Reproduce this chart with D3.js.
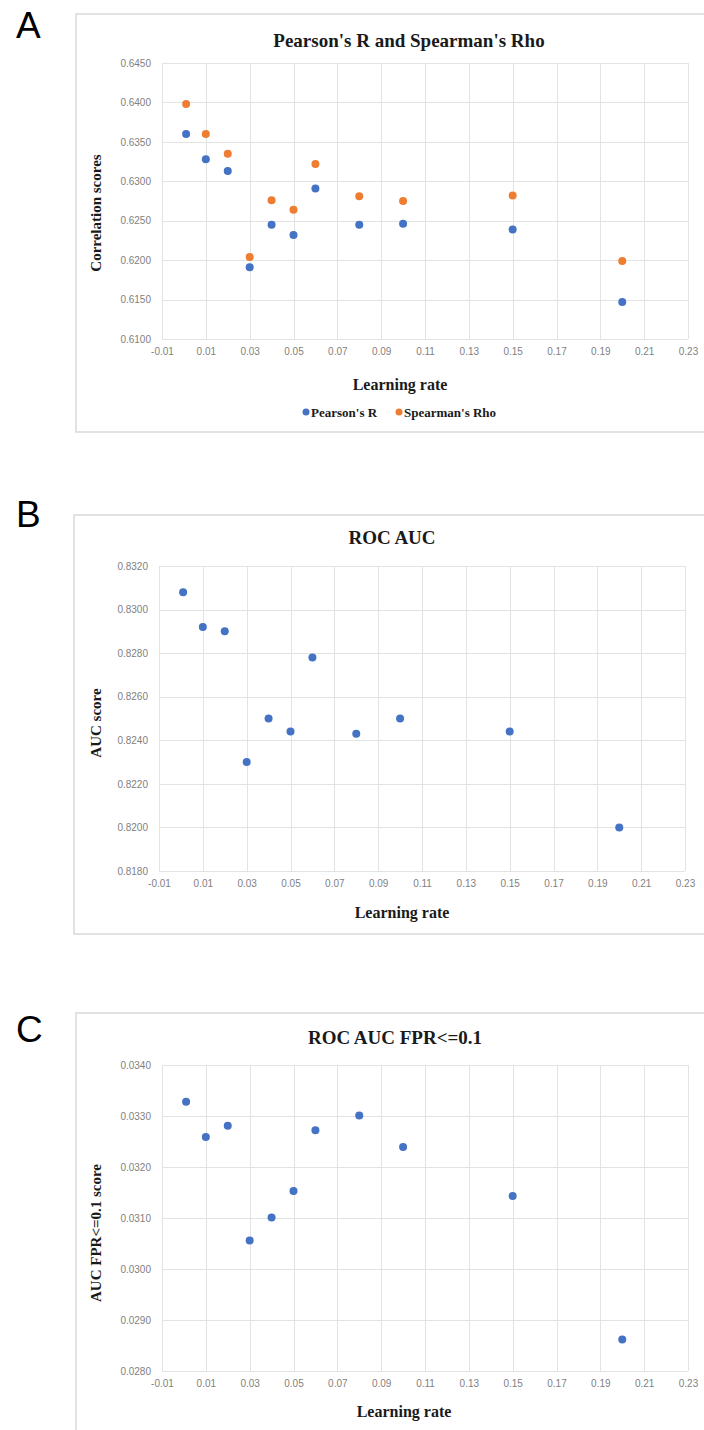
<!DOCTYPE html>
<html>
<head>
<meta charset="utf-8">
<script src="https://cdn.jsdelivr.net/npm/d3@7"></script>
<style>
  body { margin: 0; background: #fff; }
  .tick text { font-family: "Liberation Sans", Arial, sans-serif; font-size: 10px; fill: #7f7f7f; }
  .ttl { font-family: "Liberation Serif", "Times New Roman", serif; font-weight: bold; fill: #1a1a1a; }
  .letter { font-family: "Liberation Sans", Arial, sans-serif; font-size: 37px; fill: #000; }
</style>
</head>
<body>
<svg id="fig" width="704" height="1430"></svg>
<script>
// learning rates (x)
var learningRates = [0.001, 0.01, 0.02, 0.03, 0.04, 0.05, 0.06, 0.08, 0.10, 0.15, 0.20];
var xTicks = [-0.01, 0.01, 0.03, 0.05, 0.07, 0.09, 0.11, 0.13, 0.15, 0.17, 0.19, 0.21, 0.23];

// panel A
var pearsonR   = [0.6360, 0.6328, 0.6313, 0.6191, 0.6245, 0.6232, 0.6291, 0.6245, 0.6246, 0.6239, 0.6147];
var spearmanRho = [0.6398, 0.6360, 0.6335, 0.6204, 0.6276, 0.6264, 0.6322, 0.6281, 0.6275, 0.6282, 0.6199];
var yTicksA = [0.6100, 0.6150, 0.6200, 0.6250, 0.6300, 0.6350, 0.6400, 0.6450];

// panel B
var rocAuc = [0.8308, 0.8292, 0.8290, 0.8230, 0.8250, 0.8244, 0.8278, 0.8243, 0.8250, 0.8244, 0.8200];
var yTicksB = [0.8180, 0.8200, 0.8220, 0.8240, 0.8260, 0.8280, 0.8300, 0.8320];

// panel C
var rocAucFpr = [0.03328, 0.03259, 0.03281, 0.03056, 0.03101, 0.03153, 0.03272, 0.03301, 0.03239, 0.03143, 0.02862];
var yTicksC = [0.0280, 0.0290, 0.0300, 0.0310, 0.0320, 0.0330, 0.0340];

var blue = "#4472c4";
var orange = "#ed7d31";
var gridColor = "#e3e3e3";

// plain hyphen for negatives, like the spreadsheet
var fmt = d3.formatLocale({decimal: ".", thousands: ",", grouping: [3], currency: ["", ""], minus: "-"}).format;

var svg = d3.select("#fig");

function drawPanel(p) {
    var g = svg.append("g");

    g.append("rect")
        .attr("x", p.frame[0]).attr("y", p.frame[1])
        .attr("width", 720 - p.frame[0]).attr("height", p.frame[2] - p.frame[1])
        .attr("fill", "#fff").attr("stroke", "#d9d9d9").attr("stroke-width", 1.5);

    g.append("text").attr("class", "letter")
        .attr("x", 16).attr("y", p.letterY).text(p.letter);

    var x = d3.scaleLinear().domain([-0.01, 0.23]).range([p.left, p.right]);
    var y = d3.scaleLinear().domain(d3.extent(p.yTicks)).range([p.bottom, p.top]);

    // grid
    g.append("g").selectAll("line").data(p.yTicks).enter().append("line")
        .attr("x1", p.left).attr("x2", p.right)
        .attr("y1", function(d){ return Math.round(y(d)) + 0.5; })
        .attr("y2", function(d){ return Math.round(y(d)) + 0.5; })
        .attr("stroke", gridColor);
    g.append("g").selectAll("line").data(xTicks).enter().append("line")
        .attr("y1", p.top).attr("y2", p.bottom)
        .attr("x1", function(d){ return Math.round(x(d)) + 0.5; })
        .attr("x2", function(d){ return Math.round(x(d)) + 0.5; })
        .attr("stroke", gridColor);

    var xAxis = g.append("g")
        .attr("transform", "translate(0," + (p.bottom + 4) + ")")
        .call(d3.axisBottom(x).tickValues(xTicks).tickSize(0).tickFormat(fmt(".2f")));
    xAxis.select(".domain").remove();
    xAxis.selectAll("text").attr("dy", "0.9em");

    var yAxis = g.append("g")
        .attr("transform", "translate(" + (p.left - 8) + ",0)")
        .call(d3.axisLeft(y).tickValues(p.yTicks).tickSize(0).tickFormat(fmt(".4f")));
    yAxis.select(".domain").remove();

    // titles
    g.append("text").attr("class", "ttl")
        .attr("x", p.titleX).attr("y", p.titleY)
        .attr("text-anchor", "middle").style("font-size", "19px")
        .text(p.title);
    g.append("text").attr("class", "ttl")
        .attr("x", p.xLabelX).attr("y", p.xLabelY)
        .attr("text-anchor", "middle").style("font-size", "16px")
        .text("Learning rate");
    g.append("text").attr("class", "ttl")
        .attr("transform", "translate(" + 101 + "," + p.yLabelY + ") rotate(-90)")
        .attr("text-anchor", "middle").style("font-size", "15px")
        .text(p.yLabel);

    p.series.forEach(function(s) {
        g.append("g").selectAll("circle").data(s.values).enter().append("circle")
            .attr("cx", function(d, i){ return x(learningRates[i]); })
            .attr("cy", function(d){ return y(d); })
            .attr("r", 4)
            .attr("fill", s.color);
    });

    if (p.legend) {
        var lg = g.append("g").attr("transform", "translate(0," + p.legend.y + ")");
        p.series.forEach(function(s, i) {
            var lx = p.legend.x[i];
            lg.append("circle").attr("cx", lx).attr("cy", 0).attr("r", 3.5).attr("fill", s.color);
            lg.append("text").attr("class", "ttl")
                .attr("x", lx + 5).attr("y", 4.5)
                .style("font-size", "13px")
                .text(s.name);
        });
    }
}

drawPanel({
    letter: "A", letterY: 38, frame: [76, 14, 432],
    left: 162, right: 688, top: 63, bottom: 339,
    yTicks: yTicksA,
    title: "Pearson's R and Spearman's Rho", titleX: 409, titleY: 47,
    xLabelX: 400, xLabelY: 390,
    yLabel: "Correlation scores", yLabelY: 213,
    series: [
        { name: "Pearson's  R", values: pearsonR, color: blue },
        { name: "Spearman's Rho", values: spearmanRho, color: orange }
    ],
    legend: { y: 412, x: [306, 399] }
});

drawPanel({
    letter: "B", letterY: 527, frame: [74, 515, 934],
    left: 159, right: 685, top: 566, bottom: 871,
    yTicks: yTicksB,
    title: "ROC AUC", titleX: 392, titleY: 544,
    xLabelX: 402, xLabelY: 918,
    yLabel: "AUC score", yLabelY: 723,
    series: [{ name: "ROC AUC", values: rocAuc, color: blue }]
});

drawPanel({
    letter: "C", letterY: 1042, frame: [76, 1013, 1440],
    left: 162, right: 688, top: 1065, bottom: 1371,
    yTicks: yTicksC,
    title: "ROC AUC FPR<=0.1", titleX: 395, titleY: 1044,
    xLabelX: 404, xLabelY: 1417,
    yLabel: "AUC FPR<=0.1 score", yLabelY: 1233,
    series: [{ name: "ROC AUC FPR<=0.1", values: rocAucFpr, color: blue }]
});
</script>
</body>
</html>
